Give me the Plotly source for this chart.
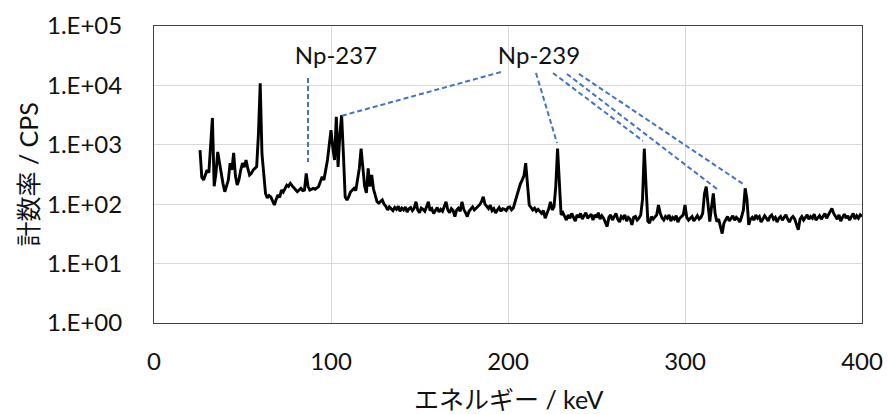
import numpy as np
import plotly.graph_objects as go

# Gamma-ray spectrum, 1 keV channels from 26 to 400 keV (count rate in CPS)
energy_kev = np.arange(26, 401, 1)

cps_026_099 = [
    815, 285, 255, 300, 376, 340, 900, 2830, 200, 330,
    760, 480, 335, 220, 162, 200, 255, 490, 380, 730,
    300, 210, 260, 376, 490, 420, 555, 400, 310, 330,
    376, 400, 430, 1500, 10900, 700, 290, 152, 127, 140,
    133, 115, 97, 120, 143, 130, 173, 160, 190, 210,
    200, 225, 205, 185, 175, 162, 175, 185, 170, 173,
    330, 200, 173, 180, 185, 178, 190, 198, 240, 290,
    255, 376, 555, 1000,
]
cps_100_199 = [
    1770, 900, 555, 2950, 425, 1500, 3150, 700, 133, 118,
    133, 160, 173, 185, 170, 255, 400, 860, 450, 200,
    155, 400, 198, 310, 180, 133, 110, 104, 112, 118,
    100, 92, 80, 90, 84, 78, 88, 82, 92, 76,
    86, 80, 90, 74, 84, 88, 78, 86, 110, 80,
    72, 86, 82, 76, 90, 110, 78, 84, 70, 80,
    88, 74, 82, 76, 90, 110, 80, 72, 84, 78,
    62, 80, 86, 76, 110, 82, 72, 62, 76, 84,
    90, 80, 86, 92, 98, 110, 133, 100, 92, 84,
    96, 78, 84, 71, 80, 88, 76, 84, 82, 78,
]
cps_200_299 = [
    88, 90, 80, 86, 110, 140, 173, 220, 255, 300,
    490, 200, 97, 88, 80, 86, 76, 82, 75, 70,
    78, 58, 70, 84, 110, 80, 90, 200, 860, 250,
    66, 72, 60, 54, 66, 58, 70, 62, 52, 66,
    60, 70, 56, 64, 72, 58, 62, 68, 54, 66,
    60, 72, 56, 64, 58, 50, 42, 60, 66, 54,
    62, 70, 56, 50, 62, 58, 66, 52, 60, 56,
    45, 60, 62, 54, 58, 66, 120, 860, 200, 52,
    48, 62, 56, 60, 66, 97, 70, 59, 54, 62,
    58, 66, 52, 60, 56, 64, 50, 58, 62, 66,
]
cps_300_400 = [
    97, 60, 54, 58, 62, 52, 58, 64, 56, 60,
    70, 150, 198, 90, 51, 90, 152, 70, 51, 56,
    44, 32, 48, 56, 62, 52, 58, 64, 54, 60,
    56, 50, 62, 80, 185, 120, 45, 56, 60, 54,
    66, 58, 62, 50, 56, 64, 58, 52, 62, 66,
    56, 60, 50, 58, 62, 54, 60, 66, 56, 50,
    58, 62, 56, 44, 37, 56, 62, 54, 60, 66,
    56, 62, 58, 68, 54, 60, 64, 56, 62, 70,
    58, 66, 72, 85, 70, 62, 56, 66, 52, 60,
    68, 58, 64, 54, 62, 70, 56, 64, 58, 66,
    62,
]
count_rate = cps_026_099 + cps_100_199 + cps_200_299 + cps_300_400

# Nuclide labels and the peaks they point to (keV, CPS)
label_names = ["Np-237", "Np-239"]
label_x = [102.8, 217.5]
label_y = [29000, 29000]

np237_leaders = [((87.0, 13300), (87.0, 514))]
np239_leaders = [
    ((196.0, 16800), (105.6, 3050)),
    ((215.8, 16200), (227.7, 1070)),
    ((225.4, 16200), (276.3, 1160)),
    ((233.3, 15600), (318.1, 180)),
    ((240.1, 15600), (332.8, 219)),
]

y_tick_vals = [1, 10, 100, 1000, 10000, 100000]
y_tick_text = ["1.E+00", "1.E+01", "1.E+02", "1.E+03", "1.E+04", "1.E+05"]
x_tick_vals = [0, 100, 200, 300, 400]

LATIN = "Lato, 'Noto Sans', sans-serif"
JP = "Lato, 'Noto Sans CJK JP', sans-serif"
TEXT_COLOR = "#111111"
LEADER_COLOR = "#4472C4"

fig = go.Figure()

fig.add_trace(go.Scatter(
    x=energy_kev, y=count_rate, mode="lines",
    line=dict(color="black", width=2.9),
    hoverinfo="skip", showlegend=False, cliponaxis=True,
))

for (x0, y0), (x1, y1) in np237_leaders + np239_leaders:
    fig.add_trace(go.Scatter(
        x=[x0, x1], y=[y0, y1], mode="lines",
        line=dict(color=LEADER_COLOR, width=2, dash="5px,3px"),
        hoverinfo="skip", showlegend=False,
    ))

fig.add_trace(go.Scatter(
    x=label_x, y=label_y, mode="text", text=label_names,
    textposition="middle center",
    textfont=dict(family=LATIN, size=24, color=TEXT_COLOR),
    hoverinfo="skip", showlegend=False,
))

fig.update_layout(
    template="none",
    width=888, height=414,
    margin=dict(l=154, r=26, t=26, b=91, autoexpand=False),
    paper_bgcolor="white", plot_bgcolor="white",
    font=dict(family=LATIN, color=TEXT_COLOR),
    xaxis=dict(
        range=[0, 400], tickvals=x_tick_vals, automargin=False,
        showgrid=True, gridcolor="#d9d9d9", gridwidth=1,
        showline=True, linecolor="#404040", linewidth=1, mirror=True,
        ticks="", ticklabelstandoff=17,
        tickfont=dict(family=LATIN, size=24, color=TEXT_COLOR),
        zeroline=False,
    ),
    yaxis=dict(
        type="log", range=[0, 5], automargin=False,
        tickvals=y_tick_vals, ticktext=y_tick_text,
        showgrid=True, gridcolor="#d9d9d9", gridwidth=1,
        showline=True, linecolor="#404040", linewidth=1, mirror=True,
        ticks="", ticklabelstandoff=26,
        tickfont=dict(family=LATIN, size=24, color=TEXT_COLOR),
        zeroline=False,
    ),
    annotations=[
        dict(text="エネルギー / keV", xref="paper", yref="paper",
             x=0.5, y=-0.255, xanchor="center", yanchor="middle",
             showarrow=False, font=dict(family=JP, size=25, color=TEXT_COLOR)),
        dict(text="計数率 / CPS", xref="paper", yref="paper",
             x=-0.178, y=0.5, xanchor="center", yanchor="middle",
             textangle=-90, showarrow=False,
             font=dict(family=JP, size=25, color=TEXT_COLOR)),
    ],
)

fig.write_html("out.html")
